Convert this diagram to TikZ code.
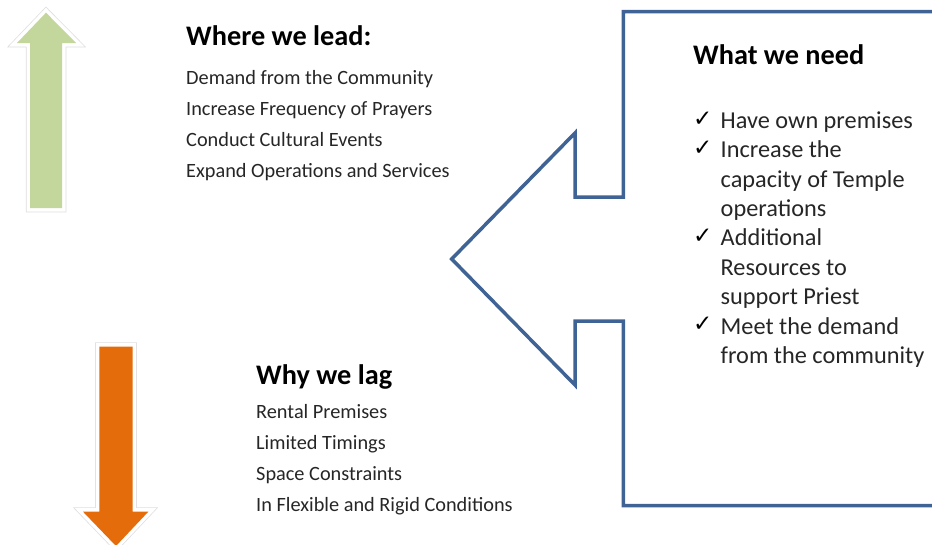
\documentclass[tikz,border=0pt]{standalone}
\usepackage{fontspec}
\setmainfont{Carlito}
\newfontfamily\symfont{DejaVu Sans}
\definecolor{txt}{HTML}{262626}
\definecolor{bluel}{HTML}{3F6394}
\definecolor{greenf}{HTML}{C3D69B}
\definecolor{orangef}{HTML}{E46C0A}
\tikzset{
  heading/.style={anchor=base west,inner sep=0pt,font=\fontsize{28.3}{30}\selectfont\bfseries,text=black},
  item/.style={anchor=base west,inner sep=0pt,font=\fontsize{20.3}{24}\selectfont,text=txt},
  ritem/.style={anchor=base west,inner sep=0pt,font=\fontsize{24.3}{28}\selectfont,text=txt},
  chk/.style={anchor=base west,inner sep=0pt,font=\symfont\fontsize{23}{24}\selectfont,text=black},
  arrowrim/.style={draw=black!13,line width=8.5pt,line join=miter},
  arrowwhite/.style={draw=white,line width=7pt,line join=miter},
}
\begin{document}
\begin{tikzpicture}[x=1pt,y=-1pt]
\useasboundingbox (0,0) rectangle (932,544);
\clip (0,0) rectangle (932,544);
% green up arrow
\def\greenpath{(46,12.7) -- (17,43) -- (30,43) -- (30,208) -- (62,208) -- (62,43) -- (76,43) -- cycle}
\path[arrowrim] \greenpath;
\path[arrowwhite] \greenpath;
\fill[greenf] \greenpath;
% orange down arrow
\def\orangepath{(116,546) -- (83,511.7) -- (99.3,511.7) -- (99.3,346.7) -- (132.7,346.7) -- (132.7,511.7) -- (148.3,511.7) -- cycle}
\path[arrowrim] \orangepath;
\path[arrowwhite] \orangepath;
\fill[orangef] \orangepath;
% blue callout
\draw[bluel,line width=3.5pt,line join=miter]
  (945,11.7) -- (623.3,11.7) -- (623.3,197) -- (575,197) -- (575,133)
  -- (451.7,259) -- (575,385) -- (575,321) -- (623.3,321) -- (623.3,505.7) -- (945,505.7);
% Where we lead
\node[heading] (h1) at (186,45) {Where we lead:};
\node[item] (a1) at (186,84) {Demand from the Community};
\node[item] (a2) at (186,115) {Increase Frequency of Prayers};
\node[item] (a3) at (186,146) {Conduct Cultural Events};
\node[item] (a4) at (186,177) {Expand Operations and Services};
% Why we lag
\node[heading] (h2) at (256,384) {Why we lag};
\node[item] (b1) at (256,418.3) {Rental Premises};
\node[item] (b2) at (256,449.3) {Limited Timings};
\node[item] (b3) at (256,480.3) {Space Constraints};
\node[item] (b4) at (256,511) {In Flexible and Rigid Conditions};
% What we need
\node[heading] (h3) at (693,64) {What we need};
\node[chk] (c1) at (693,126) {✓};
\node[ritem] (r1) at (720.5,128.3) {Have own premises};
\node[chk] (c2) at (693,155.4) {✓};
\node[ritem] (r2) at (720.5,157.7) {Increase the};
\node[ritem] (r3) at (720.5,187.1) {capacity of Temple};
\node[ritem] (r4) at (720.5,216.5) {operations};
\node[chk] (c3) at (693,243.6) {✓};
\node[ritem] (r5) at (720.5,245.9) {Additional};
\node[ritem] (r6) at (720.5,275.3) {Resources to};
\node[ritem] (r7) at (720.5,304.7) {support Priest};
\node[chk] (c4) at (693,331.8) {✓};
\node[ritem] (r8) at (720.5,334.1) {Meet the demand};
\node[ritem] (r9) at (720.5,363.5) {from the community};
\end{tikzpicture}
\end{document}
